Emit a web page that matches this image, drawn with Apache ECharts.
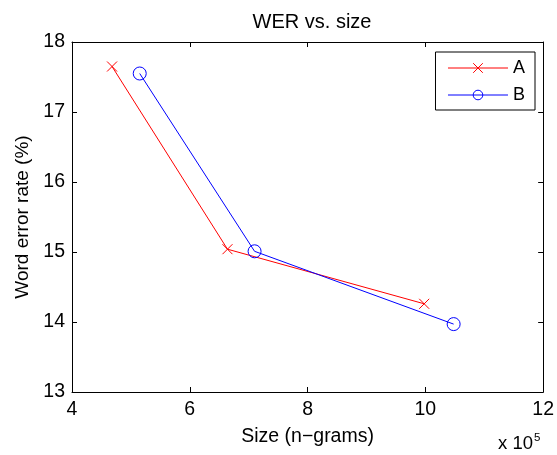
<!DOCTYPE html>
<html>
<head>
<meta charset="utf-8">
<script src="https://cdn.jsdelivr.net/npm/echarts@6/dist/echarts.min.js"></script>
<style>
  html, body { margin: 0; padding: 0; background: #fff; }
  #chart { width: 557px; height: 455px; }
</style>
</head>
<body>
<div id="chart"></div>
<script>
// sizes in units of 1e5 n-grams
var sizeA = [4.68, 6.64, 9.98]
var werA = [17.65, 15.04, 14.26]
var sizeB = [5.15, 7.1, 10.48]
var werB = [17.55, 15.01, 13.97]
var xTicks = [4, 6, 8, 10, 12]
var yTicks = [13, 14, 15, 16, 17, 18]

var font = 'Liberation Sans, Arial, Helvetica, sans-serif'

function pairs (xs, ys) {
  return xs.map(function (x, i) { return [x, ys[i]] })
}

var chart = echarts.init(document.getElementById('chart'))
var baseX = {
  type: 'value',
  min: xTicks[0],
  max: xTicks[xTicks.length - 1],
  interval: 2,
  splitLine: { show: false },
  axisLine: { onZero: false, lineStyle: { color: '#000', width: 1 } },
  axisTick: { inside: true, length: 5, lineStyle: { color: '#000' } }
}
var baseY = {
  type: 'value',
  min: yTicks[0],
  max: yTicks[yTicks.length - 1],
  interval: 1,
  splitLine: { show: false },
  axisLine: { onZero: false, lineStyle: { color: '#000', width: 1 } },
  axisTick: { inside: true, length: 5, lineStyle: { color: '#000' } }
}

chart.setOption({
  animation: false,
  backgroundColor: '#fff',
  title: {
    text: 'WER vs. size',
    left: 307,
    textAlign: 'center',
    top: 7,
    textStyle: { fontFamily: font, fontSize: 20, fontWeight: 'normal', color: '#000' }
  },
  grid: { left: 72, right: 11, top: 42, bottom: 63 },
  legend: {
    right: 22,
    top: 52,
    orient: 'vertical',
    itemWidth: 60,
    itemHeight: 12,
    itemGap: 9,
    padding: [7, 10, 6, 12],
    borderColor: '#000',
    borderWidth: 1,
    backgroundColor: '#fff',
    itemStyle: { borderWidth: 1 },
    lineStyle: { width: 1 },
    textStyle: { fontFamily: font, fontSize: 18, color: '#000' },
    data: ['A', 'B']
  },
  xAxis: [
    Object.assign({}, baseX, {
      position: 'bottom',
      name: 'Size (n\u2212grams)',
      nameLocation: 'middle',
      nameGap: 35,
      nameTextStyle: { fontFamily: font, fontSize: 19.5, color: '#000' },
      axisLabel: { margin: 8, fontFamily: font, fontSize: 19.5, color: '#000' }
    }),
    Object.assign({}, baseX, { position: 'top', axisLabel: { show: false } })
  ],
  yAxis: [
    Object.assign({}, baseY, {
      position: 'left',
      name: 'Word error rate (%)',
      nameLocation: 'middle',
      nameGap: 40,
      nameTextStyle: { fontFamily: font, fontSize: 19, color: '#000' },
      axisLabel: { margin: 7, fontFamily: font, fontSize: 19.5, color: '#000' }
    }),
    Object.assign({}, baseY, { position: 'right', axisLabel: { show: false } })
  ],
  graphic: [{
    type: 'text',
    left: 498,
    top: 432,
    style: {
      text: 'x 10{s|5}',
      fontFamily: font,
      fontSize: 18.5,
      fill: '#000',
      rich: { s: { fontSize: 11.5, verticalAlign: 'top', padding: [0, 0, 12, 1] } }
    }
  }],
  series: [
    {
      name: 'A',
      type: 'line',
      data: pairs(sizeA, werA),
      symbol: 'path://M0,0L10,10M10,0L0,10',
      symbolSize: 10,
      lineStyle: { color: '#ff0000', width: 1 },
      itemStyle: { color: '#ff0000', borderColor: '#ff0000', borderWidth: 1 }
    },
    {
      name: 'B',
      type: 'line',
      data: pairs(sizeB, werB),
      symbol: 'circle',
      symbolSize: 13,
      lineStyle: { color: '#0000ff', width: 1 },
      itemStyle: { color: 'rgba(0,0,0,0)', borderColor: '#0000ff', borderWidth: 1 }
    }
  ]
})
</script>
</body>
</html>
